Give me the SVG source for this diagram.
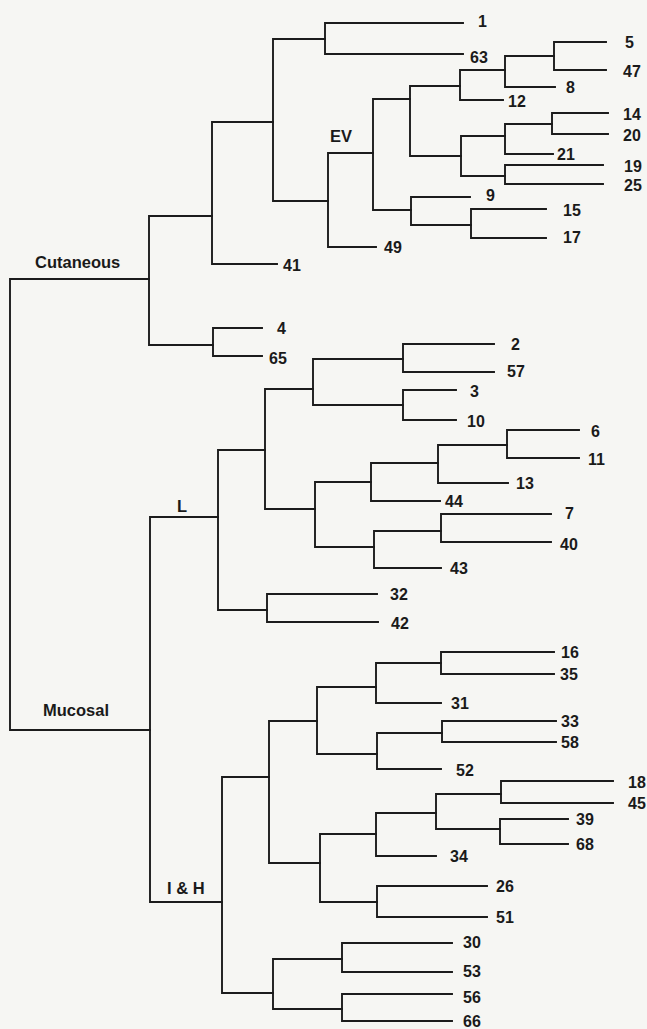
<svg xmlns="http://www.w3.org/2000/svg" width="647" height="1029" viewBox="0 0 647 1029">
<style>
.bg{fill:#f6f6f3}
.br{fill:none;stroke:#1c1c1c;stroke-width:1.9;stroke-linecap:square}
.lf{font-family:"Liberation Sans",Arial,sans-serif;font-weight:bold;font-size:16px;fill:#1a1a1a}
.cl{font-family:"Liberation Sans",Arial,sans-serif;font-weight:bold;font-size:16.5px;fill:#1a1a1a}
</style>
<rect class="bg" x="0" y="0" width="647" height="1029"/>
<g id="connectors">
<path class="br" d="M149 279 H10 V730 H150"/>
<path class="br" d="M212 216 H149 V345 H213"/>
<path class="br" d="M273 122 H212 V264 H277"/>
<path class="br" d="M262 328 H213 V356 H262"/>
<path class="br" d="M325 39 H273 V201 H328"/>
<path class="br" d="M463 23 H325 V54 H463"/>
<path class="br" d="M373 153 H328 V247 H376"/>
<path class="br" d="M410 99 H373 V210 H411"/>
<path class="br" d="M460 86 H410 V156 H461"/>
<path class="br" d="M505 70 H460 V100 H503"/>
<path class="br" d="M554 56 H505 V87 H555"/>
<path class="br" d="M606 42 H554 V70 H606"/>
<path class="br" d="M505 136 H461 V176 H505"/>
<path class="br" d="M552 124 H505 V154 H553"/>
<path class="br" d="M608 113 H552 V134 H608"/>
<path class="br" d="M603 165 H505 V184 H603"/>
<path class="br" d="M470 197 H411 V225 H471"/>
<path class="br" d="M546 209 H471 V238 H546"/>
<path class="br" d="M218 517 H150 V902 H222"/>
<path class="br" d="M265 450 H218 V610 H267"/>
<path class="br" d="M313 389 H265 V509 H315"/>
<path class="br" d="M403 359 H313 V405 H403"/>
<path class="br" d="M494 344 H403 V372 H494"/>
<path class="br" d="M456 390 H403 V420 H456"/>
<path class="br" d="M371 482 H315 V547 H374"/>
<path class="br" d="M438 463 H371 V501 H440"/>
<path class="br" d="M507 445 H438 V483 H508"/>
<path class="br" d="M579 430 H507 V458 H579"/>
<path class="br" d="M441 531 H374 V568 H441"/>
<path class="br" d="M551 514 H441 V542 H551"/>
<path class="br" d="M377 594 H267 V622 H378"/>
<path class="br" d="M269 777 H222 V993 H273"/>
<path class="br" d="M317 721 H269 V863 H320"/>
<path class="br" d="M376 687 H317 V754 H377"/>
<path class="br" d="M441 663 H376 V703 H441"/>
<path class="br" d="M554 652 H441 V674 H554"/>
<path class="br" d="M442 733 H377 V769 H441"/>
<path class="br" d="M556 721 H442 V742 H556"/>
<path class="br" d="M376 834 H320 V902 H377"/>
<path class="br" d="M436 813 H376 V856 H436"/>
<path class="br" d="M501 794 H436 V829 H500"/>
<path class="br" d="M613 781 H501 V803 H613"/>
<path class="br" d="M568 819 H500 V844 H568"/>
<path class="br" d="M487 886 H377 V917 H487"/>
<path class="br" d="M342 959 H273 V1009 H342"/>
<path class="br" d="M452 943 H342 V972 H452"/>
<path class="br" d="M452 994 H342 V1021 H452"/>
</g>
<g id="clade-labels">
<g id="cutaneous"><text class="cl" x="35" y="268">Cutaneous</text></g>
<g id="mucosal"><text class="cl" x="43" y="716">Mucosal</text></g>
<g id="ev"><text class="cl" x="330" y="142">EV</text></g>
<g id="l"><text class="cl" x="177" y="512">L</text></g>
<g id="ih"><text class="cl" x="167" y="894">I &amp; H</text></g>
</g>
<g id="leaves">
<g id="t1"><text class="lf" x="478" y="27">1</text></g>
<g id="t63"><text class="lf" x="470" y="63">63</text></g>
<g id="t5"><text class="lf" x="625" y="48">5</text></g>
<g id="t47"><text class="lf" x="623" y="77">47</text></g>
<g id="t8"><text class="lf" x="566" y="93">8</text></g>
<g id="t12"><text class="lf" x="508" y="107">12</text></g>
<g id="t14"><text class="lf" x="623" y="120">14</text></g>
<g id="t20"><text class="lf" x="623" y="141">20</text></g>
<g id="t21"><text class="lf" x="557" y="160">21</text></g>
<g id="t19"><text class="lf" x="624" y="172">19</text></g>
<g id="t25"><text class="lf" x="624" y="191">25</text></g>
<g id="t9"><text class="lf" x="486" y="201">9</text></g>
<g id="t15"><text class="lf" x="563" y="216">15</text></g>
<g id="t17"><text class="lf" x="563" y="243">17</text></g>
<g id="t49"><text class="lf" x="384" y="253">49</text></g>
<g id="t41"><text class="lf" x="283" y="271">41</text></g>
<g id="t4"><text class="lf" x="277" y="334">4</text></g>
<g id="t65"><text class="lf" x="269" y="364">65</text></g>
<g id="t2"><text class="lf" x="511" y="350">2</text></g>
<g id="t57"><text class="lf" x="507" y="377">57</text></g>
<g id="t3"><text class="lf" x="470" y="397">3</text></g>
<g id="t10"><text class="lf" x="467" y="427">10</text></g>
<g id="t6"><text class="lf" x="591" y="437">6</text></g>
<g id="t11"><text class="lf" x="588" y="465">11</text></g>
<g id="t13"><text class="lf" x="516" y="489">13</text></g>
<g id="t44"><text class="lf" x="445" y="507">44</text></g>
<g id="t7"><text class="lf" x="565" y="519">7</text></g>
<g id="t40"><text class="lf" x="560" y="550">40</text></g>
<g id="t43"><text class="lf" x="450" y="574">43</text></g>
<g id="t32"><text class="lf" x="390" y="600">32</text></g>
<g id="t42"><text class="lf" x="391" y="629">42</text></g>
<g id="t16"><text class="lf" x="561" y="658">16</text></g>
<g id="t35"><text class="lf" x="560" y="680">35</text></g>
<g id="t31"><text class="lf" x="451" y="709">31</text></g>
<g id="t33"><text class="lf" x="561" y="727">33</text></g>
<g id="t58"><text class="lf" x="561" y="748">58</text></g>
<g id="t52"><text class="lf" x="456" y="776">52</text></g>
<g id="t18"><text class="lf" x="628" y="788">18</text></g>
<g id="t45"><text class="lf" x="628" y="809">45</text></g>
<g id="t39"><text class="lf" x="576" y="825">39</text></g>
<g id="t68"><text class="lf" x="576" y="850">68</text></g>
<g id="t34"><text class="lf" x="450" y="862">34</text></g>
<g id="t26"><text class="lf" x="496" y="892">26</text></g>
<g id="t51"><text class="lf" x="496" y="923">51</text></g>
<g id="t30"><text class="lf" x="463" y="948">30</text></g>
<g id="t53"><text class="lf" x="463" y="977">53</text></g>
<g id="t56"><text class="lf" x="463" y="1003">56</text></g>
<g id="t66"><text class="lf" x="463" y="1027">66</text></g>
</g>
</svg>
